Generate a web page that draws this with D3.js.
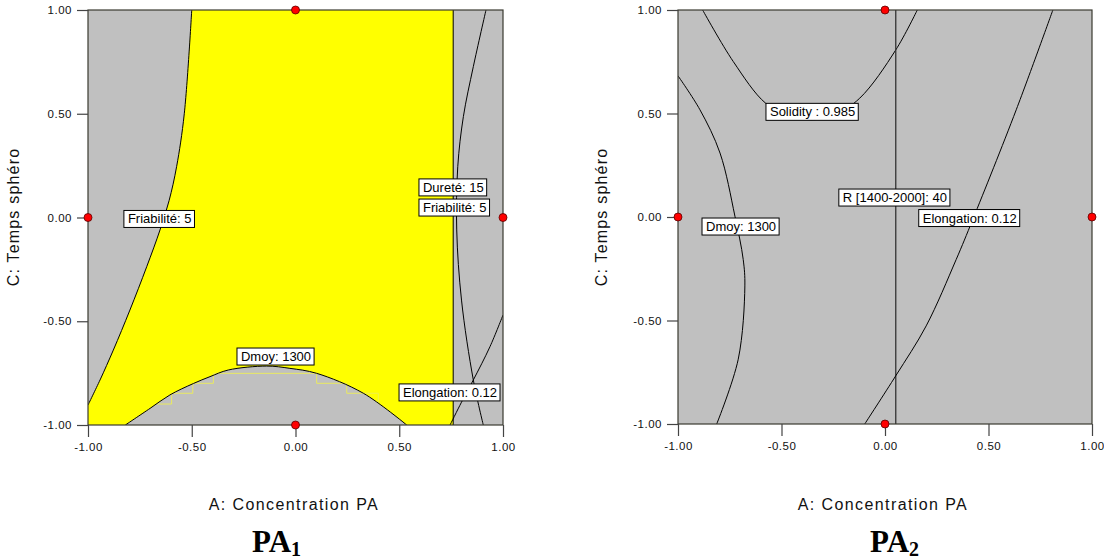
<!DOCTYPE html>
<html><head><meta charset="utf-8">
<script src="https://cdn.jsdelivr.net/npm/d3@7"></script>
<style>
body{margin:0;background:#fff;}
</style>
</head><body>
<svg id="chart" width="1104" height="560"></svg>
<script>
// ---------- data ----------
const tickValues = [-1, -0.5, 0, 0.5, 1];
const xTitle = "A: Concentration PA";
const yTitle = "C: Temps sphéro";
const designPoints = [[0, 1], [-1, 0], [1, 0], [0, -1]];

// PA1 contours (A, C coded units)
const pa1Friab = [[-0.50,1.0],[-0.536,0.5],[-0.573,0.245],[-0.609,0.082],[-0.653,-0.06],[-0.717,-0.237],[-0.798,-0.446],[-0.878,-0.639],[-0.942,-0.783],[-1.0,-0.904]];
const pa1Dmoy = [[-0.82,-1.0],[-0.701,-0.92],[-0.605,-0.855],[-0.492,-0.80],[-0.412,-0.767],[-0.324,-0.735],[-0.139,-0.716],[-0.027,-0.727],[0.102,-0.751],[0.327,-0.847],[0.536,-1.0]];
const pa1Durete = [[0.918,1.0],[0.857,0.727],[0.809,0.486],[0.782,0.245],[0.777,-0.06],[0.80,-0.398],[0.857,-0.783],[0.905,-1.0]];
const pa1Bound = [[0.76,1.0],[0.76,-1.0]];
const pa1Elong = [[0.745,-1.0],[0.80,-0.89],[0.857,-0.783],[0.937,-0.623],[1.0,-0.47]];
const pa1Steps = [[-0.669,-0.899],[-0.597,-0.899],[-0.597,-0.847],[-0.495,-0.847],[-0.495,-0.799],[-0.396,-0.799],[-0.396,-0.751],[0.102,-0.751],[0.102,-0.799],[0.247,-0.799],[0.247,-0.847],[0.399,-0.847],[0.399,-0.899]];
const pa1Labels = [
  {text: "Friabilité: 5", a: -0.827, c: -0.007},
  {text: "Dureté: 15", a: 0.595, c: 0.145},
  {text: "Friabilité: 5", a: 0.595, c: 0.048},
  {text: "Dmoy: 1300", a: -0.282, c: -0.67},
  {text: "Elongation: 0.12", a: 0.499, c: -0.843}
];

// PA2 contours
const pa2Solidity = [[-0.881,1.0],[-0.733,0.751],[-0.577,0.55],[-0.46,0.49],[-0.355,0.47],[-0.25,0.49],[-0.122,0.574],[0.052,0.807],[0.156,1.0]];
const pa2Dmoy = [[-1.0,0.682],[-0.894,0.518],[-0.797,0.309],[-0.725,0.004],[-0.685,-0.205],[-0.677,-0.333],[-0.709,-0.687],[-0.813,-1.0]];
const pa2R = [[0.052,1.0],[0.052,-1.0]];
const pa2Elong = [[0.811,1.0],[0.634,0.518],[0.424,-0.012],[0.344,-0.205],[0.199,-0.526],[0.052,-0.767],[-0.098,-1.0]];
const pa2Labels = [
  {text: "Solidity : 0.985", a: -0.575, c: 0.508},
  {text: "R [1400-2000]: 40", a: -0.223, c: 0.094},
  {text: "Dmoy: 1300", a: -0.884, c: -0.046},
  {text: "Elongation: 0.12", a: 0.163, c: -0.005}
];

// ---------- drawing ----------
const SANS = '"Liberation Sans",Arial,Helvetica,sans-serif';
const SERIF = '"Liberation Serif","Times New Roman",Times,serif';
const svg = d3.select("#chart");
svg.append("rect").attr("width", 1104).attr("height", 560).attr("fill", "#fff");

function drawPanel(opt) {
  const x = d3.scaleLinear().domain([-1, 1]).range([opt.left, opt.left + opt.size]);
  const y = d3.scaleLinear().domain([-1, 1]).range([opt.top + opt.size, opt.top]);
  const g = svg.append("g");
  const clipId = "clip" + opt.id;
  svg.append("defs").append("clipPath").attr("id", clipId)
    .append("rect").attr("x", opt.left).attr("y", opt.top).attr("width", opt.size).attr("height", opt.size);

  g.append("rect").attr("x", opt.left).attr("y", opt.top).attr("width", opt.size).attr("height", opt.size)
    .attr("fill", "#c0c0c0");

  const curve = d3.line().x(d => x(d[0])).y(d => y(d[1])).curve(d3.curveCatmullRom.alpha(0.5));
  const straight = d3.line().x(d => x(d[0])).y(d => y(d[1]));
  const cg = g.append("g").attr("clip-path", `url(#${clipId})`);

  if (opt.region) {
    cg.append("path").attr("d", opt.region(curve, x, y)).attr("fill", "#ffff00").attr("stroke", "none");
  }
  if (opt.steps) {
    cg.append("path").attr("d", straight(opt.steps)).attr("fill", "none")
      .attr("stroke", "#eeee55").attr("stroke-width", 0.9);
  }
  opt.lines.forEach(l => {
    cg.append("path").attr("d", (l.straight ? straight : curve)(l.data)).attr("fill", "none")
      .attr("stroke", l.color || "#000").attr("stroke-width", l.width || 1);
  });

  // frame
  g.append("rect").attr("x", opt.left).attr("y", opt.top).attr("width", opt.size).attr("height", opt.size)
    .attr("fill", "none").attr("stroke", "#3a3a30").attr("stroke-width", 1.2);

  // axes
  const fmt = d => d3.format(".2f")(d).replace("\u2212", "-");
  const ax = g.append("g").attr("transform", `translate(0,${opt.top + opt.size})`)
    .call(d3.axisBottom(x).tickValues(tickValues).tickFormat(fmt).tickSize(12).tickPadding(6));
  const ay = g.append("g").attr("transform", `translate(${opt.left},0)`)
    .call(d3.axisLeft(y).tickValues(tickValues).tickFormat(fmt).tickSize(11).tickPadding(5));
  [ax, ay].forEach(a => {
    a.select(".domain").remove();
    a.selectAll("line").attr("stroke", "#444").attr("stroke-width", 1.2);
    a.selectAll("text").style("font-size", "11.5px").style("letter-spacing", "0.5px")
      .attr("fill", "#111").style("font-family", SANS);
  });

  // labels
  opt.labels.forEach(lb => {
    const lg = g.append("g");
    const t = lg.append("text").attr("x", x(lb.a) + 4).attr("y", y(lb.c) + 4.5)
      .style("font-family", SANS).style("font-size", "13px").attr("fill", "#000").text(lb.text);
    const w = t.node().getComputedTextLength();
    lg.insert("rect", "text").attr("x", x(lb.a)).attr("y", y(lb.c) - 8.5)
      .attr("width", w + 7).attr("height", 17).attr("fill", "#fff")
      .attr("stroke", "#000").attr("stroke-width", 1);
  });

  // design points
  g.selectAll("circle.pt").data(designPoints).join("circle")
    .attr("cx", d => x(d[0])).attr("cy", d => y(d[1])).attr("r", 4)
    .attr("fill", "#ff0000").attr("stroke", "#5a0000").attr("stroke-width", 0.8);

  // titles
  g.append("text").attr("x", opt.xTitleX).attr("y", 510).attr("text-anchor", "middle")
    .style("font-family", SANS).style("font-size", "16px").style("letter-spacing", "1.4px")
    .attr("fill", "#111").text(xTitle);
  g.append("text").attr("transform", `translate(${opt.yTitleX},217) rotate(-90)`).attr("text-anchor", "middle")
    .style("font-family", SANS).style("font-size", "16px").style("letter-spacing", "1.2px")
    .attr("fill", "#111").text(yTitle);

  const pt = g.append("text").attr("x", opt.nameX).attr("y", 552)
    .style("font-family", SERIF).style("font-weight", "bold").style("font-size", "31px").attr("fill", "#000");
  pt.append("tspan").text("PA");
  pt.append("tspan").style("font-size", "20px").attr("dy", 4).text(opt.sub);
}

drawPanel({
  id: "1", left: 88, top: 10, size: 415,
  region: (curve, x, y) => curve(pa1Friab) + `L${x(-1)},${y(-1)}` + curve(pa1Dmoy).replace(/^M/, "L")
    + `L${x(pa1Bound[1][0])},${y(pa1Bound[1][1])}L${x(pa1Bound[0][0])},${y(pa1Bound[0][1])}Z`,
  steps: pa1Steps,
  lines: [
    {data: pa1Friab}, {data: pa1Dmoy}, {data: pa1Durete},
    {data: pa1Bound, straight: true}, {data: pa1Elong}
  ],
  labels: pa1Labels, xTitleX: 294, yTitleX: 19, nameX: 252, sub: "1"
});

drawPanel({
  id: "2", left: 678, top: 10, size: 414,
  region: null, steps: null,
  lines: [
    {data: pa2Solidity}, {data: pa2Dmoy},
    {data: pa2R, straight: true, color: "#333", width: 1.3}, {data: pa2Elong}
  ],
  labels: pa2Labels, xTitleX: 883, yTitleX: 607, nameX: 870, sub: "2"
});
</script>
</body></html>
